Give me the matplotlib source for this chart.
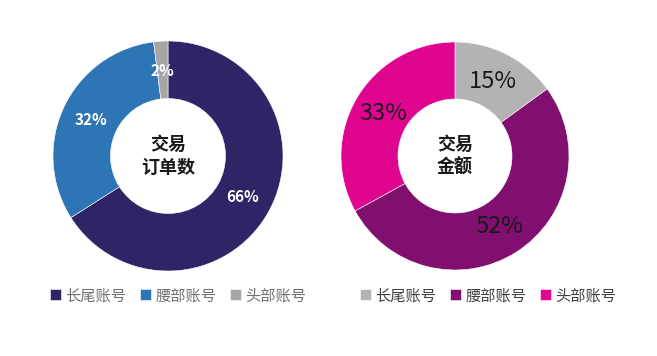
import matplotlib.pyplot as plt

plt.rcParams['font.family'] = ['Noto Sans CJK SC', 'DejaVu Sans']

labels = ['长尾账号', '腰部账号', '头部账号']

# 交易订单数
order_vals = [66, 32, 2]
order_colors = ['#2e2466', '#2e75b6', '#a6a6a6']

# 交易金额
amount_vals = [15, 52, 33]
amount_colors = ['#b3b3b3', '#800f6f', '#e0058f']

fig = plt.figure(figsize=(6.57, 3.56), dpi=100)

ax1 = fig.add_axes([53/657, 85/356, 230/657, 230/356])
ax2 = fig.add_axes([341/657, 86/356, 228/657, 228/356])


def donut(ax, vals, colors, center, pctcolor, pctsize, pctweight, pctdist):
    wedges, _, autotexts = ax.pie(
        vals, colors=colors, startangle=90, counterclock=False,
        autopct='%d%%', pctdistance=pctdist, radius=1,
        wedgeprops=dict(width=0.5, edgecolor='white', linewidth=0.4),
        textprops=dict(color=pctcolor, fontsize=pctsize, fontweight=pctweight))
    ax.set_xlim(-1, 1)
    ax.set_ylim(-1, 1)
    ax.set_aspect('equal')
    ax.text(0, 0, center, ha='center', va='center', fontsize=13,
            fontweight='bold', color='#1a1a1a', linespacing=1.25)
    return wedges


w1 = donut(ax1, order_vals, order_colors, '交易\n订单数', 'white', 11, 'bold', 0.74)
w2 = donut(ax2, amount_vals, amount_colors, '交易\n金额', '#1a1a1a', 17, 'normal', 0.73)

leg_kw = dict(loc='upper left', ncol=3, frameon=False, fontsize=11,
              handlelength=0.7, handleheight=0.7, handletextpad=0.3,
              columnspacing=0.9, borderaxespad=0)
l1 = fig.legend(w1, labels, bbox_to_anchor=(44/657, 1 - 281/356), **leg_kw)
for t in l1.get_texts():
    t.set_color('#707070')
l2 = fig.legend(w2, labels, bbox_to_anchor=(354/657, 1 - 281/356), **leg_kw)
for t in l2.get_texts():
    t.set_color('#404040')

fig.savefig('out.png', dpi=100)
